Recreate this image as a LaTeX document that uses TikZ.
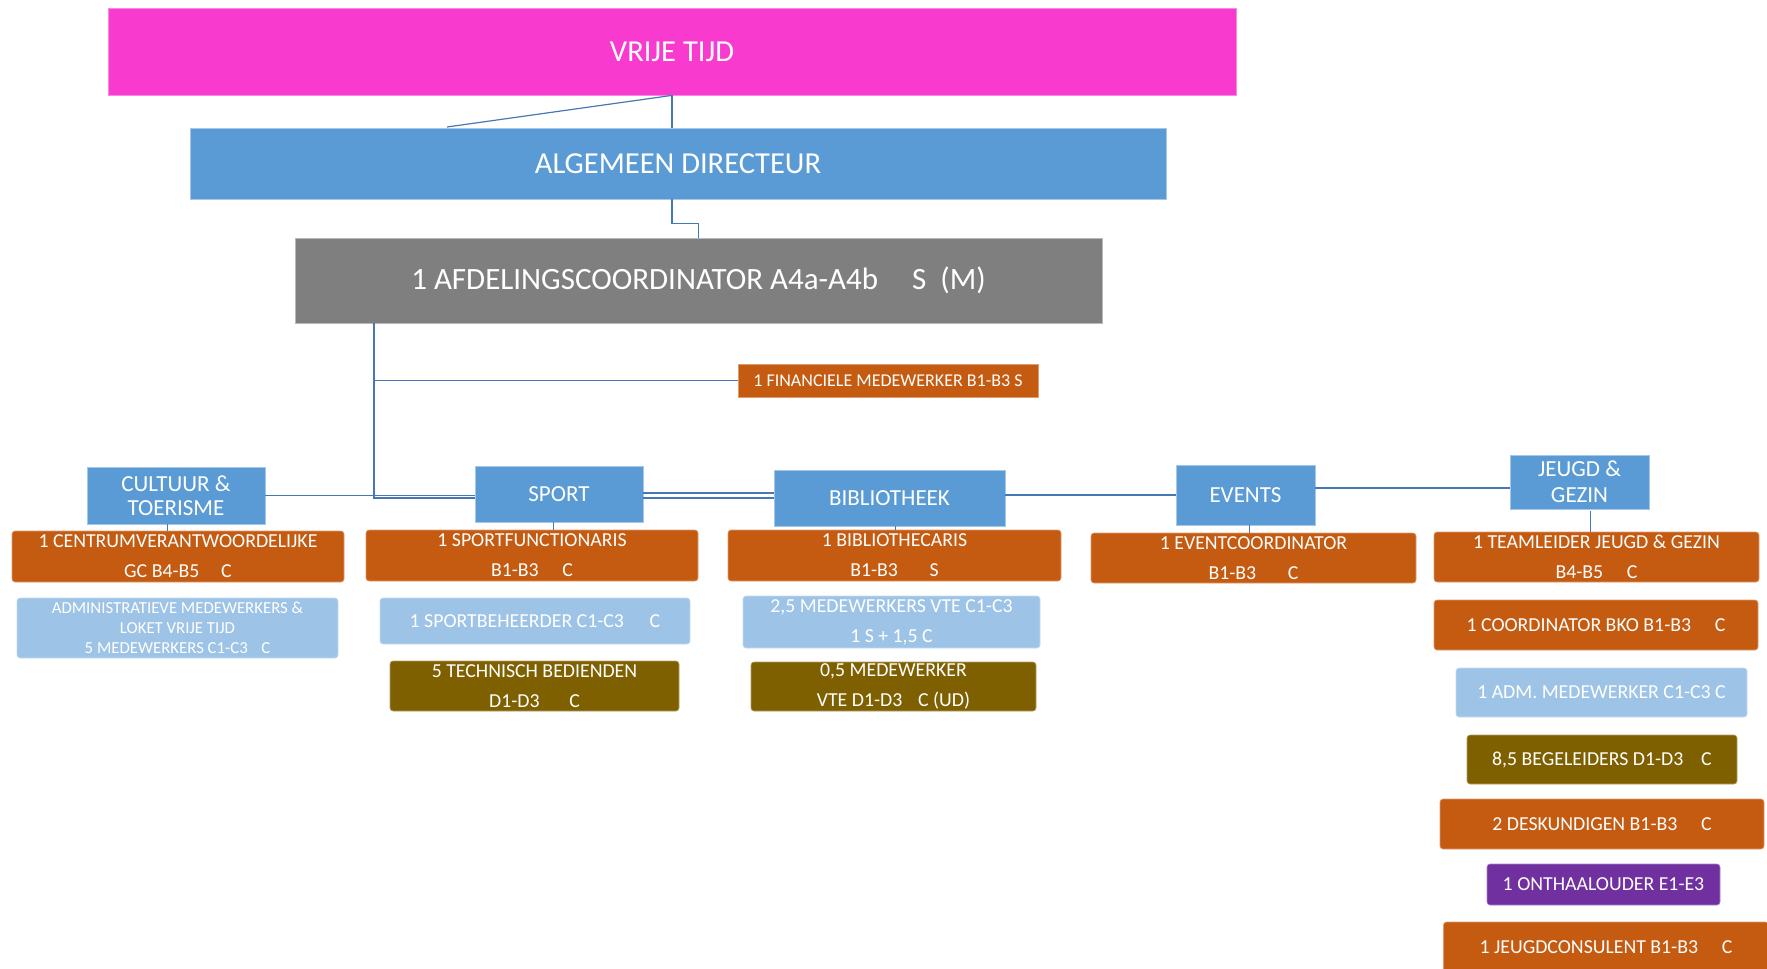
\documentclass[tikz,border=0pt]{standalone}
\usepackage{fontspec}
\setmainfont{Carlito}
\definecolor{vtpink}{RGB}{248, 58, 207}
\definecolor{unitblue}{RGB}{91, 155, 213}
\definecolor{headgrey}{RGB}{127, 127, 127}
\definecolor{roleorange}{RGB}{197, 90, 17}
\definecolor{staffblue}{RGB}{157, 195, 230}
\definecolor{techolive}{RGB}{127, 96, 0}
\definecolor{carepurple}{RGB}{112, 48, 160}
\definecolor{linkblue}{RGB}{70, 120, 182}
\tikzset{
  box/.style={inner sep=0pt, text=white, align=center},
  topbox/.style={box, line width=0.8pt},
  unitbox/.style={box, fill=unitblue, draw=unitblue!55!white, line width=0.8pt, font=\fontsize{23}{24}\selectfont},
  rolebox/.style={box, rounded corners=3pt, line width=0.6pt, font=\fontsize{19.8}{30}\selectfont},
  orangebox/.style={rolebox, fill=roleorange, draw=roleorange!60!white},
  lightbox/.style={rolebox, fill=staffblue, draw=staffblue!60!white},
  olivebox/.style={rolebox, fill=techolive, draw=techolive!60!white},
  purplebox/.style={rolebox, fill=carepurple, draw=carepurple!60!white},
  conn/.style={draw=linkblue, line width=1.2pt}
}
\begin{document}
\begin{tikzpicture}[x=1pt, y=-1pt]
\useasboundingbox (0,0) rectangle (1767,969);

% Top levels
\node[topbox, fill=vtpink, draw=vtpink!60!white, minimum width=1128, minimum height=87,
  font=\fontsize{30.5}{32}\selectfont] (vrije) at (672,51.5) {VRIJE TIJD};
\node[topbox, fill=unitblue, draw=unitblue!55!white, minimum width=976, minimum height=71,
  font=\fontsize{30.5}{32}\selectfont] (algemeen) at (678,163.5) {ALGEMEEN DIRECTEUR};
\node[topbox, fill=headgrey, draw=headgrey!55!white, minimum width=807, minimum height=85,
  font=\fontsize{31}{33}\selectfont] (afdeling) at (698.5,280.5)
  {1 AFDELINGSCOORDINATOR A4a-A4b\hspace{1.1em}S\hspace{0.45em}(M)};
\node[box, fill=roleorange, draw=roleorange!60!white, line width=0.6pt, minimum width=300, minimum height=33,
  font=\fontsize{18}{20}\selectfont] (financ) at (888,380.5) {1 FINANCIELE MEDEWERKER B1-B3 S};

% Departments
\node[unitbox, minimum width=178, minimum height=57] (cultuur) at (176,495.5) {CULTUUR \&\\TOERISME};
\node[unitbox, minimum width=168, minimum height=56] (sport) at (559,494) {SPORT};
\node[unitbox, minimum width=231, minimum height=56] (bib) at (889.5,498) {BIBLIOTHEEK};
\node[unitbox, minimum width=139, minimum height=60] (events) at (1245.5,495) {EVENTS};
\node[unitbox, minimum width=139, minimum height=54, font=\fontsize{23}{26}\selectfont] (jeugd) at (1579.5,482) {JEUGD \&\\GEZIN};

% Cultuur & toerisme
\node[orangebox, minimum width=332, minimum height=51] (centrum) at (178,556.5)
  {1 CENTRUMVERANTWOORDELIJKE\\GC B4-B5\hspace{1.1em}C};
\node[lightbox, minimum width=321, minimum height=60, font=\fontsize{16.8}{20}\selectfont] (admin) at (177.5,628)
  {ADMINISTRATIEVE MEDEWERKERS \&\\LOKET VRIJE TIJD\\5 MEDEWERKERS C1-C3\hspace{0.8em}C};

% Sport
\node[orangebox, minimum width=332, minimum height=51] (sportfunc) at (532,555.5)
  {1 SPORTFUNCTIONARIS\\B1-B3\hspace{1.2em}C};
\node[lightbox, minimum width=310, minimum height=46] (sportbeh) at (535,621)
  {1 SPORTBEHEERDER C1-C3\hspace{1.3em}C};
\node[olivebox, minimum width=289, minimum height=50] (technisch) at (534.5,686)
  {5 TECHNISCH BEDIENDEN\\D1-D3\hspace{1.5em}C};

% Bibliotheek
\node[orangebox, minimum width=333, minimum height=51] (bibcar) at (894.5,555.5)
  {1 BIBLIOTHECARIS\\B1-B3\hspace{1.6em}S};
\node[lightbox, minimum width=297, minimum height=52] (mwbib) at (891.5,622)
  {2,5 MEDEWERKERS VTE C1-C3\\1 S + 1,5 C};
\node[olivebox, minimum width=285, minimum height=49] (mwud) at (893.5,686.5)
  {0,5 MEDEWERKER\\VTE D1-D3\hspace{0.8em}C (UD)};

% Events
\node[orangebox, minimum width=325, minimum height=50] (eventco) at (1253.5,558)
  {1 EVENTCOORDINATOR\\B1-B3\hspace{1.6em}C};

% Jeugd & gezin
\node[orangebox, minimum width=325, minimum height=50] (teamleider) at (1596.5,557)
  {1 TEAMLEIDER JEUGD \& GEZIN\\B4-B5\hspace{1.2em}C};
\node[orangebox, minimum width=324, minimum height=50] (bko) at (1596,625)
  {1 COORDINATOR BKO B1-B3\hspace{1.2em}C};
\node[lightbox, minimum width=291, minimum height=49] (admjg) at (1601.5,692.5)
  {1 ADM. MEDEWERKER C1-C3 C};
\node[olivebox, minimum width=270, minimum height=49] (begel) at (1602,759.5)
  {8,5 BEGELEIDERS D1-D3\hspace{0.9em}C};
\node[orangebox, minimum width=324, minimum height=50] (desk) at (1602,824)
  {2 DESKUNDIGEN B1-B3\hspace{1.2em}C};
\node[purplebox, minimum width=233, minimum height=41] (onthaal) at (1603.5,884.5)
  {1 ONTHAALOUDER E1-E3};
\node[orangebox, minimum width=325, minimum height=50] (jeugdcons) at (1606,947)
  {1 JEUGDCONSULENT B1-B3\hspace{1.2em}C};

% Connectors, top
\coordinate (diag) at (447,127);
\draw[conn] (vrije.south) -- (vrije.south |- algemeen.north);
\draw[conn] (vrije.south) -- (diag);
\draw[conn] (algemeen.south -| vrije.south) -- ++(0,24) -| (afdeling.north);

% Connectors, departments
\coordinate (afdl) at (374,323);
\draw[conn] (afdl) -- (afdl |- financ.west) -- (financ.west);
\draw[conn] (afdl) -- ([yshift=-4pt]afdl |- sport.west) -- ([yshift=-4pt]sport.west);
\draw[conn] (cultuur.east) -- (cultuur.east -| sport.west);
\draw[conn] ([yshift=1pt]sport.east) -- ([yshift=1pt]sport.east -| bib.west);
\draw[conn] ([yshift=-4pt]sport.east) -- ([yshift=-4pt]sport.east -| bib.west);
\draw[conn] (events.west) -- (events.west -| bib.east);
\draw[conn] ([yshift=-6pt]jeugd.west) -- ([yshift=-6pt]jeugd.west -| events.east);

% Ticks to first role
\draw[conn, line width=0.8pt] ([xshift=-9pt]cultuur.south) -- ([xshift=-9pt]cultuur.south |- centrum.north);
\draw[conn, line width=0.8pt] ([xshift=-6pt]sport.south) -- ([xshift=-6pt]sport.south |- sportfunc.north);
\draw[conn, line width=0.8pt] ([xshift=6pt]bib.south) -- ([xshift=6pt]bib.south |- bibcar.north);
\draw[conn, line width=0.8pt] ([xshift=4pt]events.south) -- ([xshift=4pt]events.south |- eventco.north);
\draw[conn, line width=0.8pt] ([xshift=11pt,yshift=-2pt]jeugd.south) -- ([xshift=11pt]jeugd.south |- teamleider.north);

\end{tikzpicture}
\end{document}
